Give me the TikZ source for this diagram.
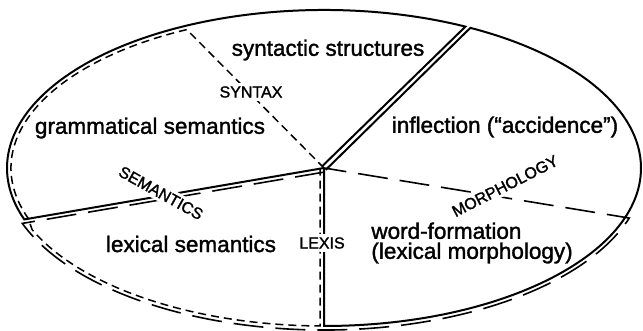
\documentclass[tikz,border=0pt]{standalone}
\usepackage{fontspec}
\setmainfont{Liberation Sans}
\newfontfamily\medfont{Liberation Sans}[Ligatures=TeX, FakeBold=1.5]
\usepackage{tikz}
\usetikzlibrary{positioning}

\tikzset{
  grammar/.style={line width=1pt},
  semline/.style={line width=0.75pt, dash pattern=on 4pt off 2.5pt},
  lexline/.style={line width=0.8pt, dash pattern=on 15pt off 6pt},
  regiontext/.style={font=\medfont\fontsize{11.25}{10}\selectfont, inner sep=1pt},
  fieldlabel/.style={font=\medfont\fontsize{8}{9.6}\selectfont, fill=white, inner sep=1.5pt}
}

\begin{document}
\begin{tikzpicture}[x=0.5pt,y=0.5pt]
    \useasboundingbox (0,0) rectangle (643,331);
    \coordinate (o) at (324,163);
    \coordinate (hub) at (324,163);
    \path (hub) ++(-1.8,1.8) coordinate (hubL)
          (hub) ++(1.8,-1.8) coordinate (hubR)
          (hub) ++(-4,0) coordinate (hubS)
          (hub) ++(0.7,-4) coordinate (hubX);
    \path (o) ++(63.5:317 and 158) coordinate (topL)
          (o) ++(62.5:317 and 158) coordinate (topR)
          (o) ++(116:313 and 154) coordinate (synend)
          (o) ++(199:317 and 158) coordinate (left)
          (o) ++(203:317 and 158) coordinate (lowL)
          (o) ++(200:321 and 162) coordinate (lexL)
          (o) ++(342:321 and 162) coordinate (right)
          (o) ++(270:317 and 158) coordinate (bot)
          (o) ++(269.3:317 and 158) coordinate (botL);

    % grammar
    \draw[grammar] (hubL) -- (topL) arc[start angle=63.5, end angle=199, x radius=317, y radius=158] -- (hub);
    \draw[grammar] (hub) -- (bot) arc[start angle=270, end angle=422.5, x radius=317, y radius=158] -- (hubR);
    % semantics
    \draw[semline] (hub) -- (synend) arc[start angle=116, end angle=199, x radius=313, y radius=154]
        -- (lowL) arc[start angle=203, end angle=269.3, x radius=317, y radius=158] -- (hubS);
    % lexis
    \draw[lexline] (hubX) -- (lexL) arc[start angle=200, end angle=342, x radius=321, y radius=162] -- (hub);

    \node[regiontext] (synstr) at (328,281) {syntactic structures};
    \node[regiontext] (gramsem) at (150,203) {grammatical semantics};
    \node[regiontext] (infl) at (505,204) {inflection (``accidence'')};
    \node[regiontext] (lexsem) at (191,87) {lexical semantics};
    \node[regiontext, align=left, anchor=west] (wordf) at (369,88) {word-formation\\(lexical morphology)};

    % fields
    \node[fieldlabel] (syntax) at (251,239) {SYNTAX};
    \node[fieldlabel, rotate=-29] (semantics) at (161,138) {SEMANTICS};
    \node[fieldlabel] (lexis) at (322,88) {LEXIS};
    \node[fieldlabel, rotate=27] (morphology) at (505,145) {MORPHOLOGY};
\end{tikzpicture}
\end{document}
